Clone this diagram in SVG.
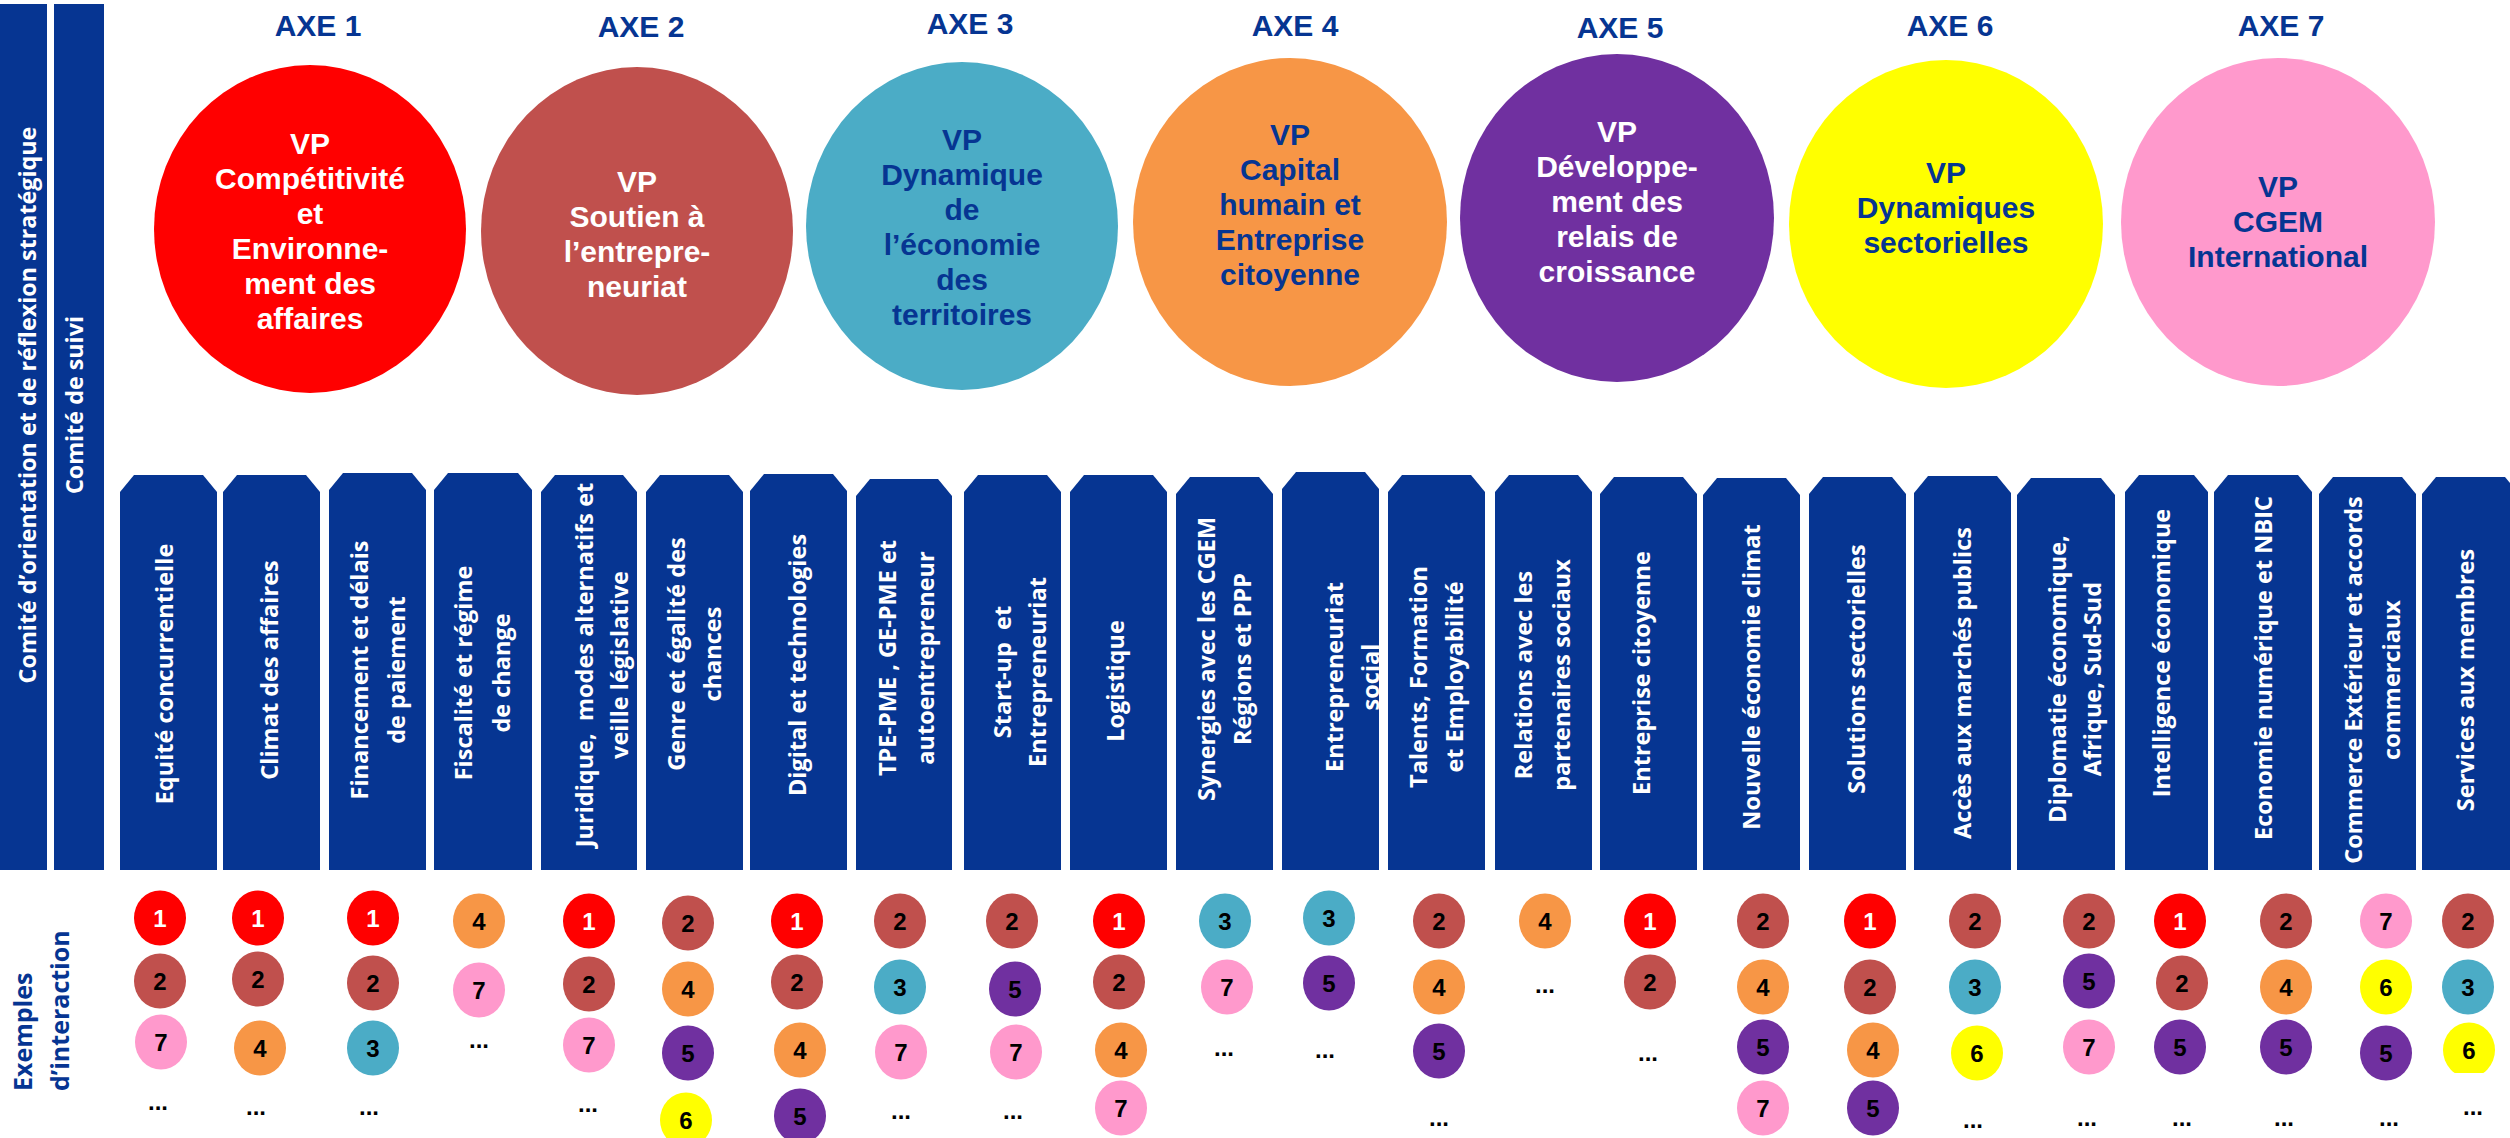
<svg xmlns="http://www.w3.org/2000/svg" xmlns:xlink="http://www.w3.org/1999/xlink" width="2510" height="1138" viewBox="0 0 2510 1138">
<style>
.bar{fill:#063592}
.axe{font-family:"Liberation Sans",Arial,sans-serif;font-weight:700;font-size:30px;fill:#063592;text-anchor:middle}
.vp{font-family:"Liberation Sans",Arial,sans-serif;font-weight:700;font-size:30px;text-anchor:middle}
.w{fill:#ffffff}
.b{fill:#063592}
.col{font-family:"Open Sans","DejaVu Sans",sans-serif;font-weight:700;font-size:23.5px;fill:#ffffff;text-anchor:middle;white-space:pre}
.side{font-family:"Open Sans","DejaVu Sans",sans-serif;font-weight:700;font-size:23.3px;fill:#ffffff;text-anchor:middle}
.ex{font-family:"Open Sans","DejaVu Sans",sans-serif;font-weight:700;font-size:25px;fill:#063592;text-anchor:start}
.num{font-family:"Liberation Sans",Arial,sans-serif;font-weight:700;font-size:24px;text-anchor:middle;fill:#000000}
.dots{font-family:"Liberation Sans",Arial,sans-serif;font-weight:700;font-size:24px;text-anchor:middle;fill:#000000}
.c1{fill:#FF0000}.c2{fill:#C0504D}.c3{fill:#4BACC6}.c4{fill:#F79646}.c5{fill:#7030A0}.c6{fill:#FFFF00}.c7{fill:#FF99CC}
</style>
<defs>
<g id="n1"><ellipse class="c1" cx="0" cy="0" rx="26" ry="27.5"/><text class="num" x="0" y="8.5" style="fill:#fff">1</text></g>
<g id="n2"><ellipse class="c2" cx="0" cy="0" rx="26" ry="27.5"/><text class="num" x="0" y="8.5">2</text></g>
<g id="n3"><ellipse class="c3" cx="0" cy="0" rx="26" ry="27.5"/><text class="num" x="0" y="8.5">3</text></g>
<g id="n4"><ellipse class="c4" cx="0" cy="0" rx="26" ry="27.5"/><text class="num" x="0" y="8.5">4</text></g>
<g id="n5"><ellipse class="c5" cx="0" cy="0" rx="26" ry="27.5"/><text class="num" x="0" y="8.5">5</text></g>
<g id="n6"><ellipse class="c6" cx="0" cy="0" rx="26" ry="27.5"/><text class="num" x="0" y="8.5">6</text></g>
<g id="n7"><ellipse class="c7" cx="0" cy="0" rx="26" ry="27.5"/><text class="num" x="0" y="8.5">7</text></g>
<clipPath id="clip23"><rect x="2400" y="1000" width="110" height="73"/></clipPath>
</defs>
<rect x="0" y="0" width="2510" height="1138" fill="#ffffff"/>

<!-- side bars -->
<g id="comite-orientation">
<rect class="bar" x="0" y="4" width="47" height="866"/>
<text class="side" transform="translate(0 405) rotate(-90)" x="0" y="36">Comité d’orientation et de réflexion stratégique</text>
</g>
<g id="comite-suivi">
<rect class="bar" x="54" y="4" width="50" height="866"/>
<text class="side" transform="translate(0 405) rotate(-90)" x="0" y="83">Comité de suivi</text>
</g>

<!-- axes -->
<g id="axe1">
<text class="axe" x="318" y="36">AXE 1</text>
<ellipse class="c1" cx="310" cy="229" rx="156" ry="164"/>
<text class="vp w"><tspan x="310" y="154">VP</tspan><tspan x="310" y="189">Compétitivité</tspan><tspan x="310" y="224">et</tspan><tspan x="310" y="259">Environne-</tspan><tspan x="310" y="294">ment des</tspan><tspan x="310" y="329">affaires</tspan></text>
</g>
<g id="axe2">
<text class="axe" x="641" y="37">AXE 2</text>
<ellipse class="c2" cx="637" cy="231" rx="156" ry="164"/>
<text class="vp w"><tspan x="637" y="192">VP</tspan><tspan x="637" y="227">Soutien à</tspan><tspan x="637" y="262">l’entrepre-</tspan><tspan x="637" y="297">neuriat</tspan></text>
</g>
<g id="axe3">
<text class="axe" x="970" y="34">AXE 3</text>
<ellipse class="c3" cx="962" cy="226" rx="156" ry="164"/>
<text class="vp b"><tspan x="962" y="150">VP</tspan><tspan x="962" y="185">Dynamique</tspan><tspan x="962" y="220">de</tspan><tspan x="962" y="255">l’économie</tspan><tspan x="962" y="290">des</tspan><tspan x="962" y="325">territoires</tspan></text>
</g>
<g id="axe4">
<text class="axe" x="1295" y="36">AXE 4</text>
<ellipse class="c4" cx="1290" cy="222" rx="157" ry="164"/>
<text class="vp b"><tspan x="1290" y="145">VP</tspan><tspan x="1290" y="180">Capital</tspan><tspan x="1290" y="215">humain et</tspan><tspan x="1290" y="250">Entreprise</tspan><tspan x="1290" y="285">citoyenne</tspan></text>
</g>
<g id="axe5">
<text class="axe" x="1620" y="38">AXE 5</text>
<ellipse class="c5" cx="1617" cy="218" rx="157" ry="164"/>
<text class="vp w"><tspan x="1617" y="142">VP</tspan><tspan x="1617" y="177">Développe-</tspan><tspan x="1617" y="212">ment des</tspan><tspan x="1617" y="247">relais de</tspan><tspan x="1617" y="282">croissance</tspan></text>
</g>
<g id="axe6">
<text class="axe" x="1950" y="36">AXE 6</text>
<ellipse class="c6" cx="1946" cy="224" rx="157" ry="164"/>
<text class="vp b"><tspan x="1946" y="183">VP</tspan><tspan x="1946" y="218">Dynamiques</tspan><tspan x="1946" y="253">sectorielles</tspan></text>
</g>
<g id="axe7">
<text class="axe" x="2281" y="36">AXE 7</text>
<ellipse class="c7" cx="2278" cy="222" rx="157" ry="164"/>
<text class="vp b"><tspan x="2278" y="197">VP</tspan><tspan x="2278" y="232">CGEM</tspan><tspan x="2278" y="267">International</tspan></text>
</g>

<!-- thematic columns -->
<g id="col1"><path class="bar" d="M120 492L134 475L203 475L217 492L217 870L120 870Z"/>
<text class="col" transform="translate(0 674) rotate(-90)"><tspan x="0" y="173">Equité concurrentielle</tspan></text></g>
<g id="col2"><path class="bar" d="M223 492L237 475L306 475L320 492L320 870L223 870Z"/>
<text class="col" transform="translate(0 670) rotate(-90)"><tspan x="0" y="278">Climat des affaires</tspan></text></g>
<g id="col3"><path class="bar" d="M329 490L343 473L412 473L426 490L426 870L329 870Z"/>
<text class="col" transform="translate(0 670) rotate(-90)"><tspan x="0" y="368">Financement et délais</tspan><tspan x="0" y="405">de paiement</tspan></text></g>
<g id="col4"><path class="bar" d="M434 490L448 473L518 473L532 490L532 870L434 870Z"/>
<text class="col" transform="translate(0 673) rotate(-90)"><tspan x="0" y="472">Fiscalité et régime</tspan><tspan x="0" y="510">de change</tspan></text></g>
<g id="col5"><path class="bar" d="M541 492L555 475L623 475L637 492L637 870L541 870Z"/>
<text class="col" transform="translate(0 665) rotate(-90)"><tspan x="0" y="593">Juridique,  modes alternatifs et</tspan><tspan x="0" y="628">veille législative</tspan></text></g>
<g id="col6"><path class="bar" d="M646 492L660 475L729 475L743 492L743 870L646 870Z"/>
<text class="col" transform="translate(0 654) rotate(-90)"><tspan x="0" y="685">Genre et égalité des</tspan><tspan x="0" y="721">chances</tspan></text></g>
<g id="col7"><path class="bar" d="M750 491L764 474L833 474L847 491L847 870L750 870Z"/>
<text class="col" transform="translate(0 665) rotate(-90)"><tspan x="0" y="806">Digital et technologies</tspan></text></g>
<g id="col8"><path class="bar" d="M856 496L870 479L938 479L952 496L952 870L856 870Z"/>
<text class="col" transform="translate(0 658) rotate(-90)"><tspan x="0" y="896">TPE-PME , GE-PME et</tspan><tspan x="0" y="934">autoentrepreneur</tspan></text></g>
<g id="col9"><path class="bar" d="M964 492L978 475L1047 475L1061 492L1061 870L964 870Z"/>
<text class="col" transform="translate(0 672) rotate(-90)"><tspan x="0" y="1011">Start-up  et</tspan><tspan x="0" y="1046">Entrepreneuriat</tspan></text></g>
<g id="col10"><path class="bar" d="M1070 492L1084 475L1153 475L1167 492L1167 870L1070 870Z"/>
<text class="col" transform="translate(0 681) rotate(-90)"><tspan x="0" y="1124">Logistique</tspan></text></g>
<g id="col11"><path class="bar" d="M1176 494L1190 477L1259 477L1273 494L1273 870L1176 870Z"/>
<text class="col" transform="translate(0 659) rotate(-90)"><tspan x="0" y="1215">Synergies avec les CGEM</tspan><tspan x="0" y="1251">Régions et PPP</tspan></text></g>
<g id="col12"><path class="bar" d="M1282 489L1296 472L1365 472L1379 489L1379 870L1282 870Z"/>
<text class="col" transform="translate(0 677) rotate(-90)"><tspan x="0" y="1343">Entrepreneuriat</tspan><tspan x="0" y="1379">social</tspan></text></g>
<g id="col13"><path class="bar" d="M1388 492L1402 475L1471 475L1485 492L1485 870L1388 870Z"/>
<text class="col" transform="translate(0 677) rotate(-90)"><tspan x="0" y="1427">Talents, Formation</tspan><tspan x="0" y="1463">et Employabilité</tspan></text></g>
<g id="col14"><path class="bar" d="M1495 492L1509 475L1578 475L1592 492L1592 870L1495 870Z"/>
<text class="col" transform="translate(0 675) rotate(-90)"><tspan x="0" y="1532">Relations avec les</tspan><tspan x="0" y="1570">partenaires sociaux</tspan></text></g>
<g id="col15"><path class="bar" d="M1600 494L1614 477L1683 477L1697 494L1697 870L1600 870Z"/>
<text class="col" transform="translate(0 673) rotate(-90)"><tspan x="0" y="1650">Entreprise citoyenne</tspan></text></g>
<g id="col16"><path class="bar" d="M1703 495L1717 478L1786 478L1800 495L1800 870L1703 870Z"/>
<text class="col" transform="translate(0 677) rotate(-90)"><tspan x="0" y="1760">Nouvelle économie climat</tspan></text></g>
<g id="col17"><path class="bar" d="M1809 494L1823 477L1892 477L1906 494L1906 870L1809 870Z"/>
<text class="col" transform="translate(0 669) rotate(-90)"><tspan x="0" y="1865">Solutions sectorielles</tspan></text></g>
<g id="col18"><path class="bar" d="M1914 493L1928 476L1997 476L2011 493L2011 870L1914 870Z"/>
<text class="col" transform="translate(0 683) rotate(-90)"><tspan x="0" y="1971">Accès aux marchés publics</tspan></text></g>
<g id="col19"><path class="bar" d="M2017 495L2031 478L2101 478L2115 495L2115 870L2017 870Z"/>
<text class="col" transform="translate(0 679) rotate(-90)"><tspan x="0" y="2066">Diplomatie économique,</tspan><tspan x="0" y="2101">Afrique, Sud-Sud</tspan></text></g>
<g id="col20"><path class="bar" d="M2125 492L2139 475L2194 475L2208 492L2208 870L2125 870Z"/>
<text class="col" transform="translate(0 653) rotate(-90)"><tspan x="0" y="2170">Intelligence économique</tspan></text></g>
<g id="col21"><path class="bar" d="M2214 492L2228 475L2298 475L2312 492L2312 870L2214 870Z"/>
<text class="col" transform="translate(0 668) rotate(-90)"><tspan x="0" y="2272">Economie numérique et NBIC</tspan></text></g>
<g id="col22"><path class="bar" d="M2319 494L2333 477L2402 477L2416 494L2416 870L2319 870Z"/>
<text class="col" transform="translate(0 680) rotate(-90)"><tspan x="0" y="2362">Commerce Extérieur et accords</tspan><tspan x="0" y="2400">commerciaux</tspan></text></g>
<g id="col23"><path class="bar" d="M2422 494L2436 477L2505 477L2519 494L2519 870L2422 870Z"/>
<text class="col" transform="translate(0 680) rotate(-90)"><tspan x="0" y="2474">Services aux membres</tspan></text></g>

<!-- Exemples d'interaction -->
<g id="exemples">
<text class="ex" transform="translate(0 1091) rotate(-90)"><tspan x="0" y="32">Exemples</tspan><tspan x="0" y="69">d’interaction</tspan></text>
</g>

<!-- interaction examples -->
<g id="interactions">
<g id="ex-col1"><use href="#n1" x="160" y="918"/><use href="#n2" x="160" y="981"/><use href="#n7" x="161" y="1042"/><text class="dots" x="158" y="1110">...</text></g>
<g id="ex-col2"><use href="#n1" x="258" y="918"/><use href="#n2" x="258" y="979"/><use href="#n4" x="260" y="1048"/><text class="dots" x="256" y="1115">...</text></g>
<g id="ex-col3"><use href="#n1" x="373" y="918"/><use href="#n2" x="373" y="983"/><use href="#n3" x="373" y="1048"/><text class="dots" x="369" y="1115">...</text></g>
<g id="ex-col4"><use href="#n4" x="479" y="921"/><use href="#n7" x="479" y="990"/><text class="dots" x="479" y="1048">...</text></g>
<g id="ex-col5"><use href="#n1" x="589" y="921"/><use href="#n2" x="589" y="984"/><use href="#n7" x="589" y="1045"/><text class="dots" x="588" y="1112">...</text></g>
<g id="ex-col6"><use href="#n2" x="688" y="923"/><use href="#n4" x="688" y="989"/><use href="#n5" x="688" y="1053"/><use href="#n6" x="686" y="1120"/></g>
<g id="ex-col7"><use href="#n1" x="797" y="921"/><use href="#n2" x="797" y="982"/><use href="#n4" x="800" y="1050"/><use href="#n5" x="800" y="1116"/></g>
<g id="ex-col8"><use href="#n2" x="900" y="921"/><use href="#n3" x="900" y="987"/><use href="#n7" x="901" y="1052"/><text class="dots" x="901" y="1119">...</text></g>
<g id="ex-col9"><use href="#n2" x="1012" y="921"/><use href="#n5" x="1015" y="989"/><use href="#n7" x="1016" y="1052"/><text class="dots" x="1013" y="1119">...</text></g>
<g id="ex-col10"><use href="#n1" x="1119" y="921"/><use href="#n2" x="1119" y="982"/><use href="#n4" x="1121" y="1050"/><use href="#n7" x="1121" y="1108"/></g>
<g id="ex-col11"><use href="#n3" x="1225" y="921"/><use href="#n7" x="1227" y="987"/><text class="dots" x="1224" y="1056">...</text></g>
<g id="ex-col12"><use href="#n3" x="1329" y="918"/><use href="#n5" x="1329" y="983"/><text class="dots" x="1325" y="1058">...</text></g>
<g id="ex-col13"><use href="#n2" x="1439" y="921"/><use href="#n4" x="1439" y="987"/><use href="#n5" x="1439" y="1051"/><text class="dots" x="1439" y="1126">...</text></g>
<g id="ex-col14"><use href="#n4" x="1545" y="921"/><text class="dots" x="1545" y="993">...</text></g>
<g id="ex-col15"><use href="#n1" x="1650" y="921"/><use href="#n2" x="1650" y="982"/><text class="dots" x="1648" y="1061">...</text></g>
<g id="ex-col16"><use href="#n2" x="1763" y="921"/><use href="#n4" x="1763" y="987"/><use href="#n5" x="1763" y="1047"/><use href="#n7" x="1763" y="1108"/></g>
<g id="ex-col17"><use href="#n1" x="1870" y="921"/><use href="#n2" x="1870" y="987"/><use href="#n4" x="1873" y="1050"/><use href="#n5" x="1873" y="1108"/></g>
<g id="ex-col18"><use href="#n2" x="1975" y="921"/><use href="#n3" x="1975" y="987"/><use href="#n6" x="1977" y="1053"/><text class="dots" x="1973" y="1128">...</text></g>
<g id="ex-col19"><use href="#n2" x="2089" y="921"/><use href="#n5" x="2089" y="981"/><use href="#n7" x="2089" y="1047"/><text class="dots" x="2087" y="1126">...</text></g>
<g id="ex-col20"><use href="#n1" x="2180" y="921"/><use href="#n2" x="2182" y="983"/><use href="#n5" x="2180" y="1047"/><text class="dots" x="2182" y="1126">...</text></g>
<g id="ex-col21"><use href="#n2" x="2286" y="921"/><use href="#n4" x="2286" y="987"/><use href="#n5" x="2286" y="1047"/><text class="dots" x="2284" y="1126">...</text></g>
<g id="ex-col22"><use href="#n7" x="2386" y="921"/><use href="#n6" x="2386" y="987"/><use href="#n5" x="2386" y="1053"/><text class="dots" x="2389" y="1126">...</text></g>
<g id="ex-col23"><use href="#n2" x="2468" y="921"/><use href="#n3" x="2468" y="987"/><g clip-path="url(#clip23)"><use href="#n6" x="2469" y="1050"/></g><text class="dots" x="2473" y="1115">...</text></g>
</g>
<g id="connectors"/>
</svg>
